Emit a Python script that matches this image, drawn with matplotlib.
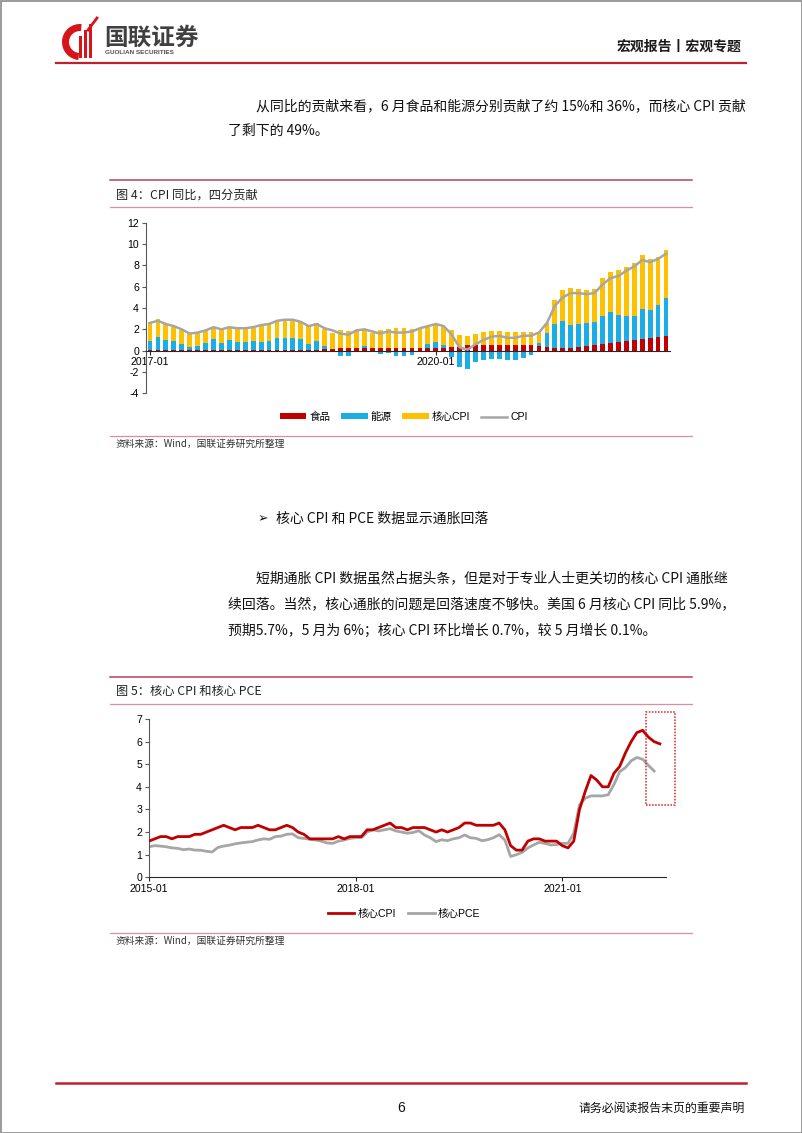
import numpy as np
import pandas as pd
import matplotlib
matplotlib.use('Agg')
import matplotlib.pyplot as plt
from matplotlib.patches import Rectangle, Wedge, Patch
from matplotlib.lines import Line2D

CJK = ['Noto Sans CJK SC', 'DejaVu Sans']
LAT = ['Liberation Sans', 'Noto Sans CJK SC']
plt.rcParams['font.family'] = CJK
plt.rcParams['axes.unicode_minus'] = False

# ---------------- Chart 1 data: CPI YoY contributions ----------------
months1 = pd.date_range('2017-01-01', periods=66, freq='MS').strftime('%Y-%m').tolist()
food = [0.03, 0.03, 0.03, 0.03, 0.03, 0.03, 0.03, 0.03, 0.04, 0.04, 0.04, 0.05,
        0.05, 0.06, 0.06, 0.07, 0.07, 0.07, 0.08, 0.08, 0.08, 0.09, 0.15, 0.20,
        0.25, 0.25, 0.25, 0.25, 0.25, 0.25, 0.25, 0.25, 0.25, 0.25, 0.25, 0.25,
        0.25, 0.25, 0.30, 0.38, 0.50, 0.50, 0.50, 0.53, 0.53, 0.53, 0.53, 0.53,
        0.53, 0.40, 0.34, 0.22, 0.25, 0.22, 0.34, 0.40, 0.50, 0.63, 0.72, 0.81,
        0.88, 0.97, 1.10, 1.19, 1.28, 1.34]
energy = [0.90, 1.25, 0.97, 0.85, 0.60, 0.35, 0.44, 0.66, 1.02, 0.71, 0.96, 0.79,
          0.73, 0.82, 0.78, 0.83, 1.12, 1.15, 1.14, 0.98, 0.55, 0.81, 0.32, 0.00,
          -0.50, -0.50, -0.05, 0.20, -0.10, -0.34, -0.20, -0.50, -0.50, -0.40, -0.10, 0.35,
          0.56, 0.28, -0.56, -1.56, -1.72, -1.10, -0.90, -0.78, -0.78, -0.84, -0.84, -0.66,
          -0.38, 0.32, 1.30, 2.25, 2.50, 2.20, 2.13, 2.23, 2.22, 2.60, 2.94, 2.50,
          2.37, 2.28, 2.80, 2.65, 3.00, 3.56]
core = [1.73, 1.66, 1.50, 1.37, 1.31, 1.18, 1.16, 1.19, 1.19, 1.25, 1.20, 1.26,
        1.32, 1.27, 1.46, 1.57, 1.56, 1.65, 1.75, 1.64, 1.71, 1.66, 1.56, 1.50,
        1.65, 1.62, 1.59, 1.55, 1.45, 1.69, 1.75, 1.85, 1.85, 1.75, 1.90, 1.70,
        1.69, 1.72, 1.60, 1.09, 0.90, 1.06, 1.28, 1.35, 1.35, 1.22, 1.22, 1.22,
        1.22, 0.94, 0.95, 2.31, 2.91, 3.46, 3.31, 3.06, 3.06, 3.58, 3.72, 4.29,
        4.55, 4.95, 5.04, 4.79, 4.50, 4.50]
cpi = [2.6, 2.8, 2.5, 2.3, 2.0, 1.6, 1.7, 1.9, 2.2, 2.0, 2.2, 2.1,
       2.1, 2.2, 2.4, 2.5, 2.8, 2.9, 2.9, 2.7, 2.3, 2.5, 2.1, 1.9,
       1.6, 1.5, 1.9, 2.0, 1.8, 1.6, 1.8, 1.7, 1.7, 1.8, 2.1, 2.3,
       2.5, 2.3, 1.5, 0.3, 0.1, 0.6, 1.0, 1.3, 1.4, 1.2, 1.2, 1.4,
       1.4, 1.7, 2.6, 4.2, 5.0, 5.4, 5.4, 5.3, 5.4, 6.2, 6.8, 7.0,
       7.5, 7.9, 8.5, 8.3, 8.6, 9.1]
xticks1 = ['2017-01', '2020-01']
legend1 = ['食品', '能源', '核心CPI', 'CPI']

# ---------------- Chart 2 data: core CPI vs core PCE ----------------
months2 = pd.date_range('2015-01-01', periods=90, freq='MS').strftime('%Y-%m').tolist()
core_cpi = [1.6, 1.7, 1.8, 1.8, 1.7, 1.8, 1.8, 1.8, 1.9, 1.9, 2.0, 2.1,
            2.2, 2.3, 2.2, 2.1, 2.2, 2.2, 2.2, 2.3, 2.2, 2.1, 2.1, 2.2,
            2.3, 2.2, 2.0, 1.9, 1.7, 1.7, 1.7, 1.7, 1.7, 1.8, 1.7, 1.8,
            1.8, 1.8, 2.1, 2.1, 2.2, 2.3, 2.4, 2.2, 2.2, 2.1, 2.2, 2.2,
            2.2, 2.1, 2.0, 2.1, 2.0, 2.1, 2.2, 2.4, 2.4, 2.3, 2.3, 2.3,
            2.3, 2.4, 2.1, 1.4, 1.2, 1.2, 1.6, 1.7, 1.7, 1.6, 1.6, 1.6,
            1.4, 1.3, 1.6, 3.0, 3.8, 4.5, 4.3, 4.0, 4.0, 4.6, 4.9, 5.5,
            6.0, 6.4, 6.5, 6.2, 6.0, 5.9]
core_pce = [1.35, 1.40, 1.38, 1.35, 1.30, 1.28, 1.22, 1.25, 1.20, 1.20, 1.15, 1.12,
            1.32, 1.38, 1.42, 1.48, 1.52, 1.55, 1.58, 1.65, 1.70, 1.68, 1.80, 1.82,
            1.90, 1.92, 1.75, 1.72, 1.68, 1.65, 1.60, 1.52, 1.50, 1.60, 1.65, 1.72,
            1.75, 1.75, 2.00, 2.10, 2.05, 2.10, 2.15, 2.05, 2.00, 1.95, 1.98, 2.06,
            1.87, 1.75, 1.58, 1.66, 1.62, 1.70, 1.75, 1.87, 1.75, 1.72, 1.62, 1.66,
            1.75, 1.88, 1.65, 0.92, 1.00, 1.10, 1.30, 1.43, 1.55, 1.50, 1.43, 1.45,
            1.50, 1.50, 1.95, 3.20, 3.50, 3.60, 3.60, 3.60, 3.65, 4.10, 4.67, 4.85,
            5.15, 5.30, 5.22, 4.95, 4.70]
xticks2 = ['2015-01', '2018-01', '2021-01']
legend2 = ['核心CPI', '核心PCE']

# highlight box (data coords of chart 2)
box_x0, box_x1, box_y0, box_y1 = 86.6, 91.6, 3.2, 7.33

RED = '#C00000'
BLUE = '#1BAEE6'
YELLOW = '#FFC000'
GRAY = '#A6A6A6'
LINE_TOP = '#B8405E'
LINE_LOW = '#DB8FA3'

W, H = 802, 1133
fig = plt.figure(figsize=(W / 100, H / 100), dpi=100)
fig.patch.set_facecolor('white')


def fbox(x0, y0, x1, y1):
    return [x0 / W, 1 - y1 / H, (x1 - x0) / W, (y1 - y0) / H]


# overlay in pixel coordinates
ov = fig.add_axes([0, 0, 1, 1])
ov.set_xlim(0, W)
ov.set_ylim(H, 0)
ov.axis('off')

# page border
ov.add_patch(Rectangle((0.5, 0.5), W - 1, H - 1, fill=False, ec='#8a8a8a', lw=1.2))

# logo
ov.add_patch(Wedge((80, 42), 18, 95, 275, width=7, fc='#D7141A', ec='none'))
for bx, bh in [(79, 22), (84, 28), (89, 34)]:
    ov.add_patch(Rectangle((bx, 58 - bh), 3, bh, fc='#D7141A', ec='none'))
ov.plot([88, 97], [30, 18], color='#D7141A', lw=2)
ov.text(104, 38, '国联证券', fontsize=17, fontweight='bold', color='#404040', va='center', ha='left')
ov.text(105, 53, 'GUOLIAN SECURITIES', fontsize=4.6, fontweight='bold', color='#505050',
        va='center', ha='left', family=LAT)
ov.text(741, 47, '宏观报告丨宏观专题', fontsize=10, fontweight='bold', color='#1a1a1a', va='center', ha='right')
ov.plot([56, 746], [63, 63], color='#C0202E', lw=1.6)

# body text
body_kw = dict(fontsize=10, color='#111111', va='center', ha='left')
ov.text(256, 106, '从同比的贡献来看，6 月食品和能源分别贡献了约 15%和 36%，而核心 CPI 贡献', **body_kw)
ov.text(228, 131, '了剩下的 49%。', **body_kw)

ov.text(258, 519, '➢', fontsize=9, color='#111111', va='center', ha='left', family=['DejaVu Sans'])
ov.text(276, 519, '核心 CPI 和 PCE 数据显示通胀回落', **body_kw)

ov.text(256, 579, '短期通胀 CPI 数据虽然占据头条，但是对于专业人士更关切的核心 CPI 通胀继', **body_kw)
ov.text(228, 605, '续回落。当然，核心通胀的问题是回落速度不够快。美国 6 月核心 CPI 同比 5.9%，', **body_kw)
ov.text(228, 631, '预期5.7%，5 月为 6%；核心 CPI 环比增长 0.7%，较 5 月增长 0.1%。', **body_kw)

# chart frames
for (ytop, ytitle, ylow, ysrc_line, ysrc, title) in [
        (180, 195, 207, 436, 444, '图 4：CPI 同比，四分贡献'),
        (677, 691, 704, 933, 941, '图 5：核心 CPI 和核心 PCE')]:
    ov.plot([110, 692], [ytop, ytop], color=LINE_TOP, lw=1.1)
    ov.plot([110, 692], [ylow, ylow], color=LINE_LOW, lw=0.9)
    ov.plot([110, 692], [ysrc_line, ysrc_line], color=LINE_LOW, lw=0.9)
    ov.text(116, ytitle, title, fontsize=8.8, color='#222222', va='center', ha='left')
    ov.text(116, ysrc, '资料来源：Wind，国联证券研究所整理', fontsize=7, color='#333333', va='center', ha='left')

# footer
ov.plot([56, 746], [1083, 1083], color='#C0202E', lw=1.8)
ov.text(401, 1108, '6', fontsize=10, color='#111111', va='center', ha='center', family=LAT)
ov.text(745, 1108, '请务必阅读报告末页的重要声明', fontsize=8.6, color='#111111', va='center', ha='right')

# ---------------- Chart 1 ----------------
ax1 = fig.add_axes(fbox(146, 222.7, 670, 393.3))
x1 = np.arange(len(months1))
food_a = np.array(food)
energy_a = np.array(energy)
core_a = np.array(core)
energy_bottom = np.where(energy_a >= 0, food_a, 0.0)
core_bottom = food_a + np.clip(energy_a, 0, None)
bw = 0.6
ax1.bar(x1, food_a, width=bw, color=RED, zorder=2)
ax1.bar(x1, energy_a, bottom=energy_bottom, width=bw, color=BLUE, zorder=2)
ax1.bar(x1, core_a, bottom=core_bottom, width=bw, color=YELLOW, zorder=2)
ax1.plot(x1, cpi, color=GRAY, lw=1.8, zorder=3)
ax1.set_xlim(-0.5, len(months1) - 0.5)
ax1.set_ylim(-4, 12)
ax1.set_yticks(np.arange(-4, 13, 2))
for s in ['top', 'right']:
    ax1.spines[s].set_visible(False)
ax1.spines['bottom'].set_position(('data', 0))
ax1.spines['bottom'].set_color('#262626')
ax1.spines['left'].set_color('#595959')
ax1.set_xticks([months1.index(t) for t in xticks1])
ax1.set_xticklabels(xticks1)
ax1.tick_params(axis='x', length=3, pad=1.5, labelsize=7.6, color='#262626')
ax1.tick_params(axis='y', length=3, pad=2, labelsize=7.6, color='#595959')
for lab in ax1.get_xticklabels() + ax1.get_yticklabels():
    lab.set_family(LAT)
ax1.patch.set_alpha(0)

h1 = [Patch(fc=RED), Patch(fc=BLUE), Patch(fc=YELLOW), Line2D([], [], color=GRAY, lw=1.8)]
leg1 = fig.legend(h1, legend1, loc='center', bbox_to_anchor=(404 / W, 1 - 417 / H), ncol=4,
                  frameon=False, handlelength=2.5, handleheight=0.55, handletextpad=0.3,
                  columnspacing=1.0, prop={'family': LAT, 'size': 7.6})

# ---------------- Chart 2 ----------------
ax2 = fig.add_axes(fbox(149, 719, 665.6, 877.3))
ax2.plot(np.arange(len(core_pce)), core_pce, color=GRAY, lw=2.0, zorder=2)
ax2.plot(np.arange(len(core_cpi)), core_cpi, color=RED, lw=2.0, zorder=3)
ax2.set_xlim(0, 90)
ax2.set_ylim(0, 7)
ax2.set_yticks(np.arange(0, 8, 1))
for s in ['top', 'right']:
    ax2.spines[s].set_visible(False)
ax2.spines['bottom'].set_color('#262626')
ax2.spines['left'].set_color('#595959')
ax2.set_xticks([months2.index(t) for t in xticks2])
ax2.set_xticklabels(xticks2)
ax2.tick_params(axis='x', length=3, pad=2, labelsize=7.6, color='#262626')
ax2.tick_params(axis='y', length=3, pad=2, labelsize=7.6, color='#595959')
for lab in ax2.get_xticklabels() + ax2.get_yticklabels():
    lab.set_family(LAT)
ax2.add_patch(Rectangle((box_x0, box_y0), box_x1 - box_x0, box_y1 - box_y0, fill=False,
                        ec='#E02020', lw=1.1, ls=(0, (1, 1)), clip_on=False, zorder=4))
ax2.patch.set_alpha(0)

h2 = [Line2D([], [], color=RED, lw=2.0), Line2D([], [], color=GRAY, lw=2.0)]
fig.legend(h2, legend2, loc='center', bbox_to_anchor=(404 / W, 1 - 914 / H), ncol=2,
           frameon=False, handlelength=2.5, handletextpad=0.3, columnspacing=1.2,
           prop={'family': LAT, 'size': 7.6})

fig.savefig('out.png', dpi=100)
